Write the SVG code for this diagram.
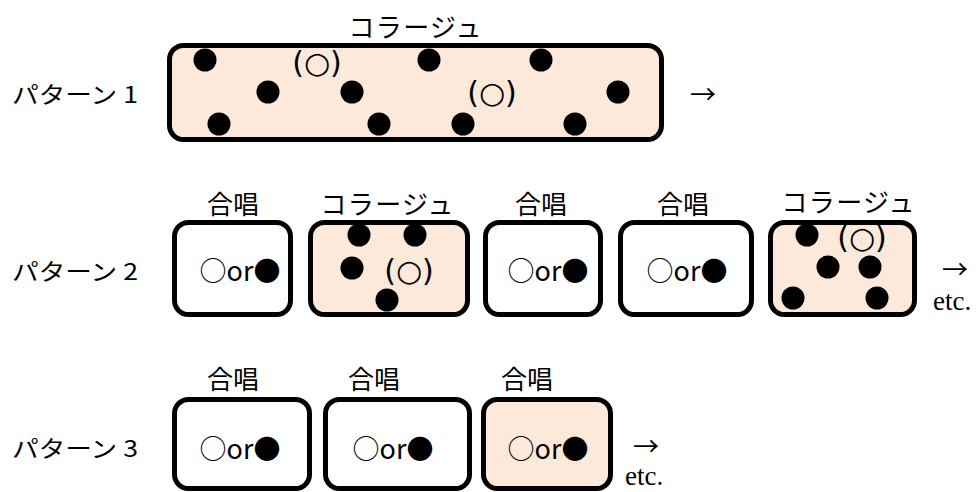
<svg xmlns="http://www.w3.org/2000/svg" width="979" height="492" viewBox="0 0 979 492">
<style>
.box{stroke:#000;stroke-width:5;fill:#fff}
.col{fill:#FDE9D9}
.jp{font-family:"Noto Sans CJK JP","Noto Sans",sans-serif;fill:#000;dominant-baseline:central}
.lab{font-size:23px}
.ttl{font-size:26px;text-anchor:middle}
.or{font-size:27px;text-anchor:middle}
.par{font-family:"DejaVu Sans",sans-serif;font-size:30px;text-anchor:middle;dominant-baseline:central}
.arr{font-family:"Noto Sans CJK JP",sans-serif;font-size:26px;text-anchor:middle;dominant-baseline:central}
.etc{font-family:"Liberation Serif",serif;font-size:27px}
</style>
<rect width="979" height="492" fill="#fff"/>
<g id="labels">
<text class="jp lab" x="12" y="93" textLength="126" lengthAdjust="spacingAndGlyphs">パターン 1</text>
<text class="jp lab" x="12" y="270" textLength="126" lengthAdjust="spacingAndGlyphs">パターン 2</text>
<text class="jp lab" x="12" y="447" textLength="126" lengthAdjust="spacingAndGlyphs">パターン 3</text>
</g>
<g id="p1">
<text class="jp ttl" x="415" y="25" textLength="133" lengthAdjust="spacing">コラージュ</text>
<rect class="box col" x="169.5" y="45.5" width="492" height="94" rx="14"/>
<circle cx="205" cy="60" r="11.5"/><circle cx="268" cy="92" r="11.5"/><circle cx="352" cy="92" r="11.5"/>
<circle cx="219" cy="124" r="11.5"/><circle cx="429" cy="60" r="11.5"/><circle cx="379" cy="124" r="11.5"/>
<circle cx="463" cy="124" r="11.5"/><circle cx="541" cy="60" r="11.5"/><circle cx="618" cy="92" r="11.5"/>
<circle cx="575" cy="124" r="11.5"/>
<text class="par" x="317" y="62">(○)</text>
<text class="par" x="492" y="92">(○)</text>
</g>
<g id="p2-1">
<text class="jp ttl" x="233" y="202">合唱</text>
<rect class="box" x="174.5" y="222.5" width="116" height="92" rx="14"/>
<text class="jp or" x="240" y="269">○or●</text>
</g>
<g id="p2-2">
<text class="jp ttl" x="387" y="202" textLength="133" lengthAdjust="spacing">コラージュ</text>
<rect class="box col" x="310.5" y="222.5" width="157" height="92" rx="14"/>
<circle cx="359" cy="235" r="11.5"/><circle cx="415" cy="235" r="11.5"/>
<circle cx="352" cy="268" r="11.5"/><circle cx="387" cy="300" r="11.5"/>
<text class="par" x="409" y="270">(○)</text>
</g>
<g id="p2-3">
<text class="jp ttl" x="541" y="202">合唱</text>
<rect class="box" x="485.5" y="222.5" width="115" height="92" rx="14"/>
<text class="jp or" x="548" y="269">○or●</text>
</g>
<g id="p2-4">
<text class="jp ttl" x="683" y="202">合唱</text>
<rect class="box" x="620.5" y="222.5" width="131" height="92" rx="14"/>
<text class="jp or" x="687" y="269">○or●</text>
</g>
<g id="p2-5">
<text class="jp ttl" x="848" y="200" textLength="133" lengthAdjust="spacing">コラージュ</text>
<rect class="box col" x="770.5" y="222.5" width="144" height="92" rx="14"/>
<circle cx="807" cy="235" r="11.5"/><circle cx="828" cy="267" r="11.5"/><circle cx="870" cy="267" r="11.5"/>
<circle cx="793" cy="298" r="11.5"/><circle cx="877" cy="298" r="11.5"/>
<text class="par" x="862" y="237">(○)</text>
</g>
<g id="p3-1">
<text class="jp ttl" x="233" y="377">合唱</text>
<rect class="box" x="174.5" y="399.5" width="135" height="89" rx="14"/>
<text class="jp or" x="240" y="447">○or●</text>
</g>
<g id="p3-2">
<text class="jp ttl" x="374" y="377">合唱</text>
<rect class="box" x="325.5" y="399.5" width="144" height="89" rx="14"/>
<text class="jp or" x="393" y="447">○or●</text>
</g>
<g id="p3-3">
<text class="jp ttl" x="527" y="377">合唱</text>
<rect class="box col" x="483.5" y="399.5" width="127" height="89" rx="14"/>
<text class="jp or" x="548" y="447">○or●</text>
</g>
<g id="connectors">
<text class="arr" x="703" y="92">→</text>
<text class="arr" x="955" y="267">→</text>
<text class="etc" x="933" y="310">etc.</text>
<text class="arr" x="646" y="444">→</text>
<text class="etc" x="625" y="485">etc.</text>
</g>
</svg>
